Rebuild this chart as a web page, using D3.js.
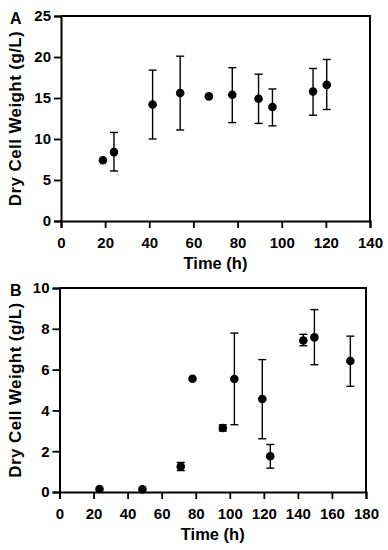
<!DOCTYPE html>
<html><head><meta charset="utf-8">
<script src="https://cdn.jsdelivr.net/npm/d3@7"></script>
<style>body{margin:0;background:#fff}svg{display:block}text{font-family:"Liberation Sans",Arial,sans-serif;font-weight:bold}</style>
</head><body>
<script>
// Panel A data
const timeA = [19, 24, 41.5, 54, 67, 77.6, 89.5, 95.8, 114.2, 120.4];
const dcwA  = [7.4, 8.4, 14.2, 15.6, 15.2, 15.4, 14.9, 13.9, 15.8, 16.6];
const lowA  = [null, 6.1, 10.0, 11.1, null, 12.0, 11.9, 11.6, 12.9, 13.6];
const highA = [null, 10.8, 18.4, 20.1, null, 18.7, 17.9, 16.1, 18.6, 19.7];
const xTicksA = [0, 20, 40, 60, 80, 100, 120, 140];
const yTicksA = [0, 5, 10, 15, 20, 25];
// Panel B data
const timeB = [23.5, 48.7, 71.2, 78.1, 95.9, 102.7, 119.1, 123.8, 143.2, 149.7, 170.8];
const dcwB  = [0.15, 0.13, 1.25, 5.55, 3.14, 5.54, 4.56, 1.75, 7.43, 7.58, 6.42];
const lowB  = [null, null, 1.05, null, 2.99, 3.3, 2.61, 1.17, 7.17, 6.24, 5.18];
const highB = [null, null, 1.45, null, 3.29, 7.79, 6.49, 2.33, 7.73, 8.94, 7.64];
const xTicksB = [0, 20, 40, 60, 80, 100, 120, 140, 160, 180];
const yTicksB = [0, 2, 4, 6, 8, 10];

const svg = d3.select("body").append("svg").attr("width", 388).attr("height", 550);

function panel(cfg) {
  const {label, xs, ys, lo, hi, xTicks, yTicks, xMax, yMax, x0, x1, y0, y1} = cfg;
  const x = d3.scaleLinear().domain([0, xMax]).range([x0, x1]);
  const y = d3.scaleLinear().domain([0, yMax]).range([y0, y1]);
  const g = svg.append("g");
  // frame top/right
  g.append("line").attr("x1", x0).attr("x2", x1).attr("y1", y1).attr("y2", y1).attr("stroke", "#000").attr("stroke-width", 2);
  g.append("line").attr("x1", x1).attr("x2", x1).attr("y1", y1 - 1).attr("y2", y0 + 1).attr("stroke", "#000").attr("stroke-width", 2);
  const xa = g.append("g").attr("transform", `translate(0,${y0})`)
    .call(d3.axisBottom(x).tickValues(xTicks).tickSize(7).tickPadding(9).tickFormat(d3.format("d")));
  const ya = g.append("g").attr("transform", `translate(${x0},0)`)
    .call(d3.axisLeft(y).tickValues(yTicks).tickSize(7).tickPadding(3).tickFormat(d3.format("d")));
  [xa, ya].forEach(a => {
    a.select(".domain").attr("stroke-width", 2).attr("stroke", "#000");
    a.selectAll(".tick line").attr("stroke-width", 1.8).attr("stroke", "#000");
    a.selectAll("text").style("font-size", "15px").attr("fill", "#000");
  });
  // error bars
  const data = xs.map((t, i) => ({t, v: ys[i], lo: lo[i], hi: hi[i]}));
  const eb = g.append("g").attr("stroke", "#000").attr("stroke-width", 1.4);
  data.filter(d => d.lo != null).forEach(d => {
    eb.append("line").attr("x1", x(d.t)).attr("x2", x(d.t)).attr("y1", y(d.lo)).attr("y2", y(d.hi));
    [d.lo, d.hi].forEach(v => eb.append("line").attr("x1", x(d.t) - 4).attr("x2", x(d.t) + 4).attr("y1", y(v)).attr("y2", y(v)));
  });
  g.append("g").selectAll("circle").data(data).join("circle")
    .attr("cx", d => x(d.t)).attr("cy", d => y(d.v)).attr("r", 4.3).attr("fill", "#000");
  // titles
  g.append("text").attr("x", (x0 + x1) / 2).attr("y", y0 + 48).attr("text-anchor", "middle")
    .style("font-size", "16.5px").text("Time (h)");
  g.append("text").attr("transform", `translate(21,${(y0 + y1) / 2}) rotate(-90)`).attr("text-anchor", "middle")
    .style("font-size", "17px").style("letter-spacing", "0.4px").text("Dry Cell Weight (g/L)");
  g.append("text").attr("x", 10).attr("y", y1 + 8).style("font-size", "16px").text(label);
}

panel({label: "A", xs: timeA, ys: dcwA, lo: lowA, hi: highA, xTicks: xTicksA, yTicks: yTicksA,
  xMax: 140, yMax: 25, x0: 61, x1: 370, y0: 221, y1: 16});
panel({label: "B", xs: timeB, ys: dcwB, lo: lowB, hi: highB, xTicks: xTicksB, yTicks: yTicksB,
  xMax: 180, yMax: 10, x0: 59.5, x1: 366, y0: 492, y1: 288});
</script>
</body></html>
